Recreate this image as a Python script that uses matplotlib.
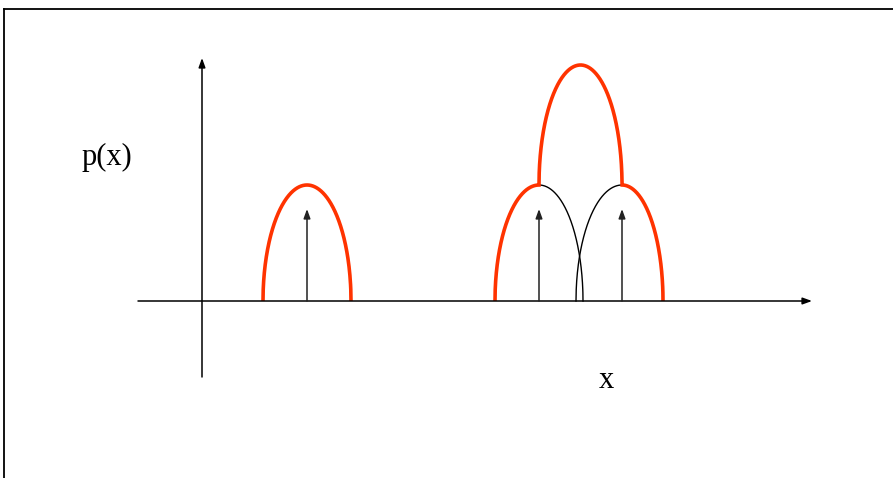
import numpy as np
import matplotlib
matplotlib.use("Agg")
import matplotlib.pyplot as plt

# ---- data (diagram units: pixels, baseline at y=0) ----
sample_points = [307, 539, 622]      # kernel centres (arrow positions)
kernel_halfwidth = 44
kernel_height = 116
arrow_height = 92
sum_peak_height = 236                # peak of the combined (overlapping) estimate
x_axis_range = [138, 812]
y_axis_range = [-76, 243]
ylabel_text = "p(x)"
xlabel_text = "x"

RED = "#ff3300"
W, H = 893, 478
BASE = 301  # pixel row of the baseline

fig = plt.figure(figsize=(W / 100, H / 100), dpi=100)
ax = fig.add_axes([0, 0, 1, 1])
ax.set_xlim(0, W)
ax.set_ylim(BASE - H, BASE)
ax.axis("off")


def ellipse(c, w, h, x0, x1, base=0.0, n=400):
    x = np.linspace(x0, x1, n)
    y = base + h * np.sqrt(np.clip(1 - ((x - c) / w) ** 2, 0, None))
    return x, y


# frame (top and left edges visible)
fig.add_artist(plt.Line2D([4 / W, 1], [1 - 9 / H, 1 - 9 / H], color="black", lw=1.3))
fig.add_artist(plt.Line2D([4 / W, 4 / W], [0, 1 - 9 / H], color="black", lw=1.3))

ARW = "-|>,head_length=0.55,head_width=0.2"
# axes with arrowheads
ax.annotate("", xy=(x_axis_range[1], 0), xytext=(x_axis_range[0], 0),
            arrowprops=dict(arrowstyle=ARW, color="black", lw=1.1, shrinkA=0, shrinkB=0))
ax.annotate("", xy=(202, y_axis_range[1]), xytext=(202, y_axis_range[0]),
            arrowprops=dict(arrowstyle=ARW, color="black", lw=1.1, shrinkA=0, shrinkB=0))

# sample arrows
for c in sample_points:
    ax.annotate("", xy=(c, arrow_height), xytext=(c, 0),
                arrowprops=dict(arrowstyle=ARW, color="#222222", lw=1.1,
                                shrinkA=0, shrinkB=0))

w, h = kernel_halfwidth, kernel_height
c1, c2, c3 = sample_points

# isolated kernel
x, y = ellipse(c1, w, h, c1 - w, c1 + w)
ax.plot(x, y, color=RED, lw=2.6, solid_capstyle="butt")

# overlapping kernels: thin black inner parts
x, y = ellipse(c2, w, h, c2, c2 + w)
ax.plot(x, y, color="black", lw=1.0)
x, y = ellipse(c3, w + 2, h, c3 - w - 2, c3)
ax.plot(x, y, color="black", lw=1.0)

# red outline of combined estimate
xa, ya = ellipse(c2, w, h, c2 - w, c2)
mid = (c2 + c3) / 2
hw = (c3 - c2) / 2
xb, yb = ellipse(mid, hw, sum_peak_height - h, c2, c3, base=h)
xc, yc = ellipse(c3, w - 3, h, c3, c3 + w - 3)
xs = np.concatenate([xa, xb, xc])
ys = np.concatenate([ya, yb, yc])
ax.plot(xs, ys, color=RED, lw=2.6, solid_joinstyle="miter", solid_capstyle="butt")

# labels
ax.text(107, BASE - 157, ylabel_text, fontsize=22, family="Liberation Serif",
        ha="center", va="center")
ax.text(606, BASE - 380, xlabel_text, fontsize=22, family="Liberation Serif",
        ha="center", va="center")

fig.savefig("out.png", dpi=100)
